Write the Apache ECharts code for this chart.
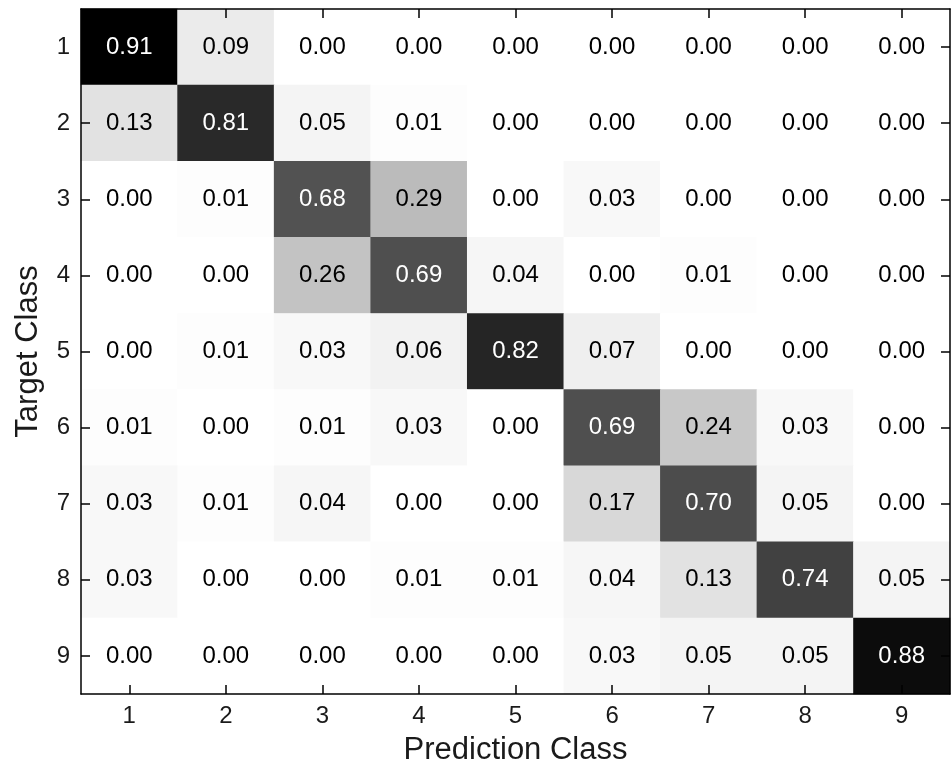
<!DOCTYPE html>
<html>
<head>
<meta charset="utf-8">
<script src="https://cdn.jsdelivr.net/npm/echarts@6/dist/echarts.min.js"></script>
<style>
  html, body { margin: 0; padding: 0; background: #fff; }
  #chart { width: 952px; height: 772px; }
</style>
</head>
<body>
<div id="chart"></div>
<script>
// Class labels along both axes
const predictionClasses = ['1', '2', '3', '4', '5', '6', '7', '8', '9'];
const targetClasses = ['1', '2', '3', '4', '5', '6', '7', '8', '9'];

// Confusion matrix: one row per target class, columns are predicted classes
const rates = [
  [0.91, 0.09, 0.00, 0.00, 0.00, 0.00, 0.00, 0.00, 0.00],
  [0.13, 0.81, 0.05, 0.01, 0.00, 0.00, 0.00, 0.00, 0.00],
  [0.00, 0.01, 0.68, 0.29, 0.00, 0.03, 0.00, 0.00, 0.00],
  [0.00, 0.00, 0.26, 0.69, 0.04, 0.00, 0.01, 0.00, 0.00],
  [0.00, 0.01, 0.03, 0.06, 0.82, 0.07, 0.00, 0.00, 0.00],
  [0.01, 0.00, 0.01, 0.03, 0.00, 0.69, 0.24, 0.03, 0.00],
  [0.03, 0.01, 0.04, 0.00, 0.00, 0.17, 0.70, 0.05, 0.00],
  [0.03, 0.00, 0.00, 0.01, 0.01, 0.04, 0.13, 0.74, 0.05],
  [0.00, 0.00, 0.00, 0.00, 0.00, 0.03, 0.05, 0.05, 0.88]
];

const cells = [];
rates.forEach((row, r) => row.forEach((v, c) => cells.push({
  value: [c, r, v],
  // light text on the dark diagonal cells
  label: { color: v > 0.5 ? '#ffffff' : '#000000' }
})));

const FONT = 'Liberation Sans, Arial, sans-serif';

const chart = echarts.init(document.getElementById('chart'), null, { renderer: 'canvas' });

// Shared settings for the four sides of the frame, drawn above the cells
const frameAxis = {
  type: 'category',
  boundaryGap: true,
  z: 10,
  axisLine: { show: true, onZero: false, lineStyle: { color: '#000', width: 1.5 } },
  axisTick: { show: true, inside: true, length: 9, alignWithLabel: true, lineStyle: { color: '#000', width: 1.5 } },
  splitLine: { show: false },
  splitArea: { show: false }
};

chart.setOption({
  backgroundColor: '#fff',
  animation: false,
  grid: { left: 81, right: 2, top: 9, bottom: 78, containLabel: false, outerBoundsMode: 'none' },
  xAxis: [
    Object.assign({}, frameAxis, {
      position: 'bottom',
      data: predictionClasses,
      name: 'Prediction Class',
      nameLocation: 'middle',
      nameGap: 41,
      nameTextStyle: { fontFamily: FONT, fontSize: 31, color: '#1a1a1a' },
      axisLabel: { fontFamily: FONT, fontSize: 24, color: '#1a1a1a', margin: 10 }
    }),
    Object.assign({}, frameAxis, {
      position: 'top',
      data: predictionClasses,
      axisLabel: { show: false }
    })
  ],
  yAxis: [
    Object.assign({}, frameAxis, {
      position: 'left',
      inverse: true,
      data: targetClasses,
      name: 'Target Class',
      nameLocation: 'middle',
      nameGap: 37,
      nameRotate: 90,
      nameTextStyle: { fontFamily: FONT, fontSize: 31, color: '#1a1a1a' },
      axisLabel: { fontFamily: FONT, fontSize: 24, color: '#1a1a1a', margin: 11 }
    }),
    Object.assign({}, frameAxis, {
      position: 'right',
      inverse: true,
      data: targetClasses,
      axisLabel: { show: false }
    })
  ],
  visualMap: {
    show: false,
    type: 'continuous',
    min: 0,
    max: 0.91,
    dimension: 2,
    seriesIndex: 0,
    inRange: {
      color: ['#ffffff', '#e2e2e2', '#c3c3c3', '#a0a0a0', '#7d7d7d', '#5b5b5b', '#353535', '#000000']
    }
  },
  series: [{
    type: 'heatmap',
    xAxisIndex: 0,
    yAxisIndex: 0,
    z: 1,
    data: cells,
    itemStyle: { borderWidth: 0 },
    emphasis: { disabled: true },
    label: {
      show: true,
      fontFamily: FONT,
      fontSize: 24,
      formatter: p => p.value[2].toFixed(2)
    }
  }]
});
</script>
</body>
</html>
